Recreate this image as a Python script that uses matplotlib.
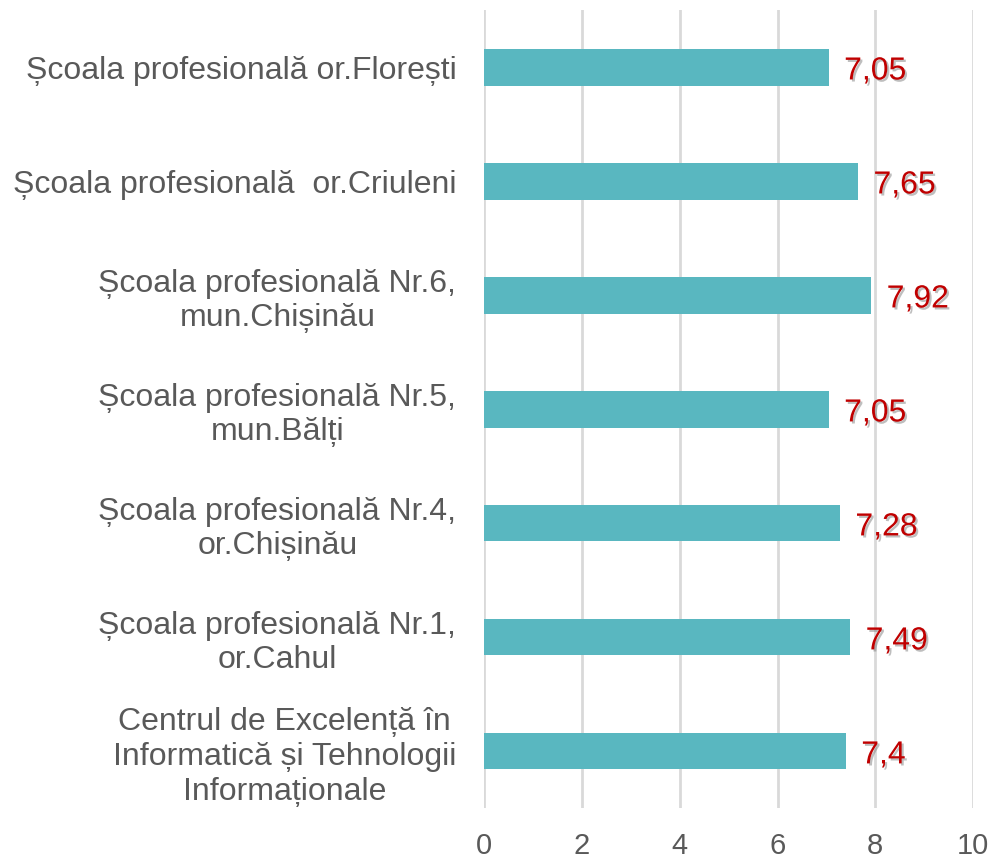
import matplotlib
matplotlib.use("Agg")
import matplotlib.pyplot as plt
import matplotlib.patheffects as pe

categories = [
    "Școala profesională or.Florești",
    "Școala profesională  or.Criuleni",
    "Școala profesională Nr.6,\nmun.Chișinău",
    "Școala profesională Nr.5,\nmun.Bălți",
    "Școala profesională Nr.4,\nor.Chișinău",
    "Școala profesională Nr.1,\nor.Cahul",
    "Centrul de Excelență în\nInformatică și Tehnologii\nInformaționale",
]
values = [7.05, 7.65, 7.92, 7.05, 7.28, 7.49, 7.4]
value_labels = ["7,05", "7,65", "7,92", "7,05", "7,28", "7,49", "7,4"]
xticks = [0, 2, 4, 6, 8, 10]

plt.rcParams['font.family'] = ['Liberation Sans', 'DejaVu Sans']

fig = plt.figure(figsize=(9.94, 8.58), dpi=100)
ax = fig.add_axes([0.487, 0.058, 0.492, 0.930])

ypos = list(range(len(categories)))
ax.barh(ypos, values, height=0.32, color="#59B7C0", zorder=3)
ax.set_ylim(len(categories) - 0.5, -0.5)
ax.set_xlim(0, 10)
ax.set_xticks(xticks)
ax.set_xticklabels([str(t) for t in xticks], fontsize=21, color="#595959")
ax.set_yticks(ypos)
ax.set_yticklabels(categories, fontsize=23, color="#595959", multialignment="center")
ax.tick_params(axis="both", length=0)
ax.tick_params(axis="x", pad=17)
ax.tick_params(axis="y", pad=20)
for s in ax.spines.values():
    s.set_visible(False)
ax.grid(axis="x", color="#D9D9D9", linewidth=2, zorder=0)
ax.set_axisbelow(True)

for y, v, lab in zip(ypos, values, value_labels):
    ax.annotate(lab, xy=(v, y), xytext=(11, -3), textcoords="offset points",
                ha="left", va="center", fontsize=23, color="#C00000",
                path_effects=[pe.SimplePatchShadow(offset=(1.5, -1.5), shadow_rgbFace="#7f7f7f", alpha=0.5), pe.Normal()])

fig.savefig("out.png", dpi=100)
